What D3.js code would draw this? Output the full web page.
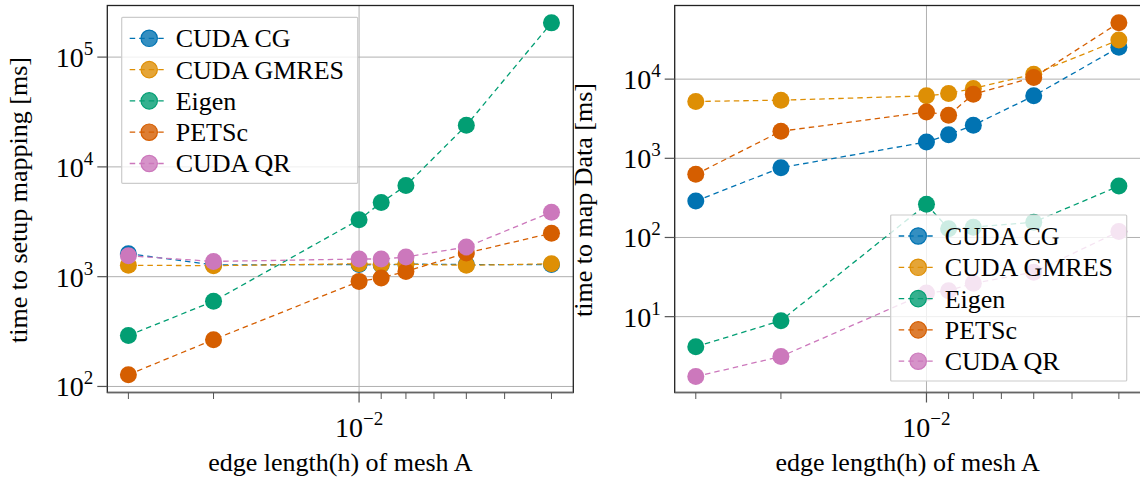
<!DOCTYPE html>
<html>
<head>
<meta charset="utf-8">
<script src="https://cdn.jsdelivr.net/npm/d3@7"></script>
<style>
  body { margin: 0; background: #fff; }
  svg { display: block; font-family: "Liberation Serif", "DejaVu Serif", serif; }
</style>
</head>
<body>
<div id="chart"></div>
<script>
// mesh edge lengths (x values, shared by both panels)
var meshH = [0.03, 0.02, 0.01, 0.009, 0.008, 0.006, 0.004];

var seriesNames = ["CUDA CG", "CUDA GMRES", "Eigen", "PETSc", "CUDA QR"];
var seriesColors = ["#0173b2", "#de8f05", "#029e73", "#d55e00", "#cc78bc"];

// left panel: time to setup mapping [ms]
var setupCG     = [1620, 1280, 1290, 1280, 1300, 1290, 1290];
var setupGMRES  = [1270, 1260, 1310, 1290, 1300, 1270, 1310];
var setupEigen  = [291, 597, 3300, 4730, 6760, 23900, 205000];
var setupPETSc  = [128, 267, 906, 973, 1117, 1640, 2490];
var setupQR     = [1550, 1377, 1448, 1448, 1510, 1862, 3870];

// right panel: time to map data [ms]
var mapCG     = [288, 762, 1607, 1990, 2620, 6150, 25200];
var mapGMRES  = [5220, 5420, 6150, 6590, 7630, 11560, 31200];
var mapEigen  = [4.17, 8.9, 262, 129, 135, 156, 446];
var mapPETSc  = [627, 2200, 3850, 3500, 6460, 10500, 51600];
var mapQR     = [1.75, 3.14, 19.9, 21.3, 26.4, 36.4, 119];

var xMajor = [0.01];
var xMinor = [0.03, 0.02, 0.009, 0.008, 0.007, 0.006, 0.005, 0.004];
var setupTicks = [2, 3, 4, 5];
var mapTicks = [1, 2, 3, 4];

var W = 1140, H = 483;
var svg = d3.select("#chart").append("svg").attr("width", W).attr("height", H);

var gridColor = "#b0b0b0";

function supLabel(sel, exp) {
  sel.append("tspan").text("10");
  sel.append("tspan").attr("font-size", 19).attr("dy", -12).text(exp);
}

function panel(opt) {
  var x = d3.scaleLog().domain([0.03317, 0.003605]).range([opt.left, opt.left + 466]);
  var y = d3.scaleLog().domain(opt.yDomain).range([392.5, 5.5]);
  var g = svg.append("g");

  // grid
  opt.yTicks.forEach(function(e) {
    var yy = y(Math.pow(10, e));
    g.append("line").attr("x1", opt.left).attr("x2", opt.left + 466)
      .attr("y1", yy).attr("y2", yy).attr("stroke", gridColor).attr("stroke-width", 1);
  });
  xMajor.forEach(function(v) {
    g.append("line").attr("x1", x(v)).attr("x2", x(v)).attr("y1", 5.5).attr("y2", 392.5)
      .attr("stroke", gridColor).attr("stroke-width", 1);
  });

  // series
  var line = d3.line().x(function(d) { return x(d[0]); }).y(function(d) { return y(d[1]); });
  var clip = "clip" + Math.round(opt.left);
  svg.append("clipPath").attr("id", clip).append("rect")
    .attr("x", opt.left).attr("y", 5.5).attr("width", 466).attr("height", 387);
  var plot = g.append("g").attr("clip-path", "url(#" + clip + ")");
  opt.series.forEach(function(vals, i) {
    var pts = meshH.map(function(h, j) { return [h, vals[j]]; });
    plot.append("path").attr("d", line(pts)).attr("fill", "none")
      .attr("stroke", seriesColors[i]).attr("stroke-width", 1.3).attr("stroke-dasharray", "5.5,4");
    plot.selectAll(null).data(pts).enter().append("circle")
      .attr("cx", function(d) { return x(d[0]); })
      .attr("cy", function(d) { return y(d[1]); })
      .attr("r", 8.5).attr("fill", seriesColors[i]);
  });

  // frame
  g.append("rect").attr("x", opt.left).attr("y", 5.5).attr("width", 466).attr("height", 387)
    .attr("fill", "none").attr("stroke", "#222").attr("stroke-width", 1.3);
  g.append("line").attr("x1", opt.left).attr("x2", opt.left + 466).attr("y1", 392.5).attr("y2", 392.5)
    .attr("stroke", "#666").attr("stroke-width", 1.6);

  // y ticks
  opt.yTicks.forEach(function(e) {
    var yy = y(Math.pow(10, e));
    g.append("line").attr("x1", opt.left - 10).attr("x2", opt.left).attr("y1", yy).attr("y2", yy)
      .attr("stroke", "#555").attr("stroke-width", 1.2);
    var t = g.append("text").attr("x", opt.left - 14).attr("y", yy + 10)
      .attr("text-anchor", "end").attr("font-size", 28);
    supLabel(t, String(e));
  });

  // x ticks
  xMajor.forEach(function(v) {
    g.append("line").attr("x1", x(v)).attr("x2", x(v)).attr("y1", 392.5).attr("y2", 402.5)
      .attr("stroke", "#555").attr("stroke-width", 1.2);
    var t = g.append("text").attr("x", x(v)).attr("y", 437).attr("text-anchor", "middle")
      .attr("font-size", 28);
    supLabel(t, "\u22122");
  });
  xMinor.forEach(function(v) {
    g.append("line").attr("x1", x(v)).attr("x2", x(v)).attr("y1", 392.5).attr("y2", 399)
      .attr("stroke", "#555").attr("stroke-width", 1);
  });

  // axis labels
  g.append("text").attr("x", opt.left + 233).attr("y", 471).attr("text-anchor", "middle")
    .attr("font-size", 26).text("edge length(h) of mesh A");
  g.append("text").attr("transform", "translate(" + opt.yLabelX + ",200) rotate(-90)")
    .attr("text-anchor", "middle").attr("font-size", 26).text(opt.yLabel);

  // legend
  var lg = g.append("g").attr("transform", "translate(" + opt.legX + "," + opt.legY + ")");
  lg.append("rect").attr("width", 236).attr("height", 166).attr("rx", 1)
    .attr("fill", "#fff").attr("fill-opacity", 0.8).attr("stroke", "#ccc").attr("stroke-width", 1.2);
  seriesNames.forEach(function(name, i) {
    var ry = 21 + i * 31.3;
    lg.append("line").attr("x1", 8).attr("x2", 44).attr("y1", ry).attr("y2", ry)
      .attr("stroke", seriesColors[i]).attr("stroke-width", 1.3).attr("stroke-dasharray", "5.5,4");
    lg.append("circle").attr("cx", 27.5).attr("cy", ry).attr("r", 8.2)
      .attr("fill", seriesColors[i]).attr("fill-opacity", 0.8)
      .attr("stroke", seriesColors[i]).attr("stroke-width", 1.2);
    lg.append("text").attr("x", 54).attr("y", ry + 9).attr("font-size", 26).text(name);
  });
}

panel({
  left: 107.3, yDomain: [Math.pow(10, 1.945), Math.pow(10, 5.47)], yTicks: setupTicks,
  series: [setupCG, setupGMRES, setupEigen, setupPETSc, setupQR],
  yLabel: "time to setup mapping [ms]", yLabelX: 27,
  legX: 121.7, legY: 17.3
});
panel({
  left: 674.7, yDomain: [Math.pow(10, 0.042), Math.pow(10, 4.93)], yTicks: mapTicks,
  series: [mapCG, mapGMRES, mapEigen, mapPETSc, mapQR],
  yLabel: "time to map Data [ms]", yLabelX: 592,
  legX: 890.7, legY: 215
});
</script>
</body>
</html>
